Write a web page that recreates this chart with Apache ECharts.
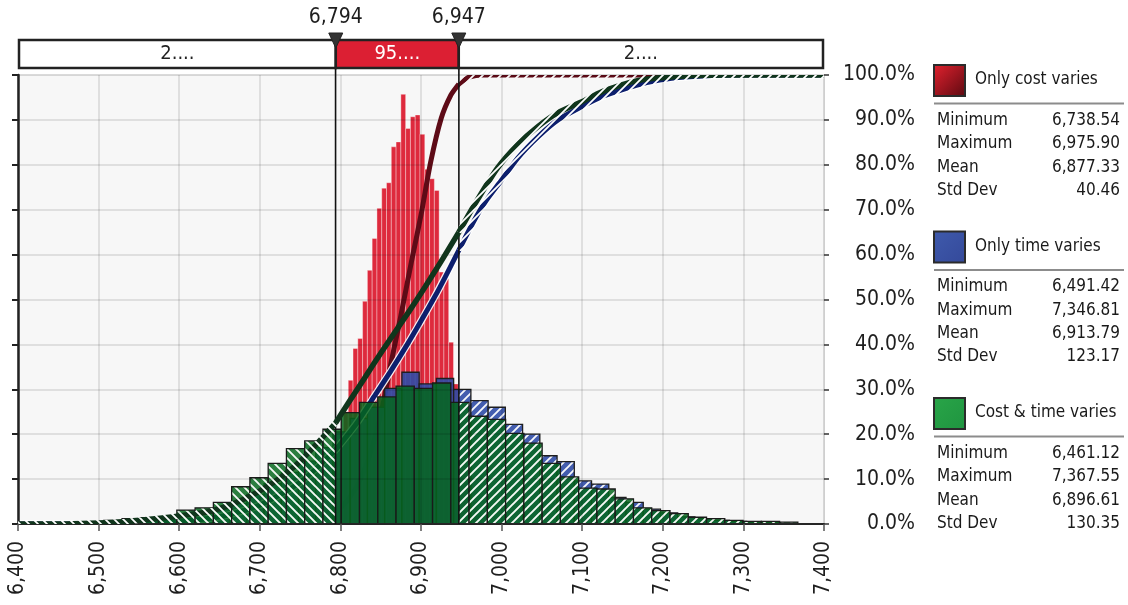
<!DOCTYPE html>
<html>
<head>
<meta charset="utf-8">
<script src="https://cdn.jsdelivr.net/npm/echarts@6/dist/echarts.min.js"></script>
<style>
  html, body { margin: 0; padding: 0; background: #ffffff; }
  #chart { width: 1128px; height: 605px; }
</style>
</head>
<body>
<div id="chart"></div>
<script>
// ---- Simulation summary -------------------------------------------------
const seriesNames = ['Only cost varies', 'Only time varies', 'Cost & time varies'];
const statLabels = ['Minimum', 'Maximum', 'Mean', 'Std Dev'];
const costStats = [6738.54, 6975.90, 6877.33, 40.46];
const timeStats = [6491.42, 7346.81, 6913.79, 123.17];
const bothStats = [6461.12, 7367.55, 6896.61, 130.35];

// Histogram densities (x10^-3 per unit), 40 equal bins from each series' min to max
const costDensity = [0.04, 0.05, 0.08, 0.12, 0.20, 0.30, 0.45, 0.70, 1.00, 1.40,
                     1.90, 2.50, 3.20, 3.91, 4.13, 4.96, 5.65, 6.36, 7.03, 7.48,
                     7.60, 8.40, 8.51, 9.57, 8.81, 9.07, 9.11, 8.68, 7.90, 7.69,
                     7.43, 5.61, 5.46, 4.05, 3.12, 2.30, 1.60, 1.00, 0.50, 0.20];
const timeDensity = [0.01, 0.02, 0.04, 0.06, 0.10, 0.14, 0.23, 0.34, 0.46, 0.66,
                     0.90, 1.15, 1.40, 1.70, 2.05, 2.35, 2.60, 3.02, 3.38, 3.12,
                     3.24, 3.00, 2.75, 2.60, 2.22, 2.00, 1.52, 1.39, 0.96, 0.89,
                     0.59, 0.48, 0.33, 0.25, 0.16, 0.12, 0.08, 0.06, 0.04, 0.03];
const bothDensity = [0.03, 0.05, 0.08, 0.12, 0.14, 0.14, 0.31, 0.36, 0.48, 0.83,
                     1.03, 1.35, 1.68, 1.85, 2.11, 2.48, 2.71, 2.83, 3.07, 3.02,
                     3.14, 2.71, 2.40, 2.33, 2.02, 1.80, 1.35, 1.05, 0.80, 0.78,
                     0.56, 0.36, 0.30, 0.23, 0.15, 0.12, 0.08, 0.06, 0.06, 0.04];

// Cumulative probability curves (%)
const costCdfX = [6400, 6738, 6760, 6780, 6794, 6810, 6825, 6840, 6852, 6863, 6875, 6888,
                  6900, 6912, 6925, 6937, 6947, 6958, 6968, 6976, 7400];
const costCdfY = [0, 0, 0.3, 1.2, 2.5, 5.5, 10, 17.5, 26, 36, 46.4, 58.3,
                  68.8, 80.6, 90.3, 95.5, 98, 99.4, 99.9, 100, 100];
const timeCdfX = [6400, 6491, 6550, 6600, 6650, 6700, 6750, 6794, 6820, 6842, 6863, 6883,
                  6900, 6917, 6930, 6947, 6966, 6980, 7000, 7020, 7045, 7070, 7099, 7125,
                  7149, 7180, 7211, 7250, 7300, 7400];
const timeCdfY = [0, 0, 0.3, 0.6, 1.6, 4.2, 9.3, 16.5, 22.4, 28.4, 34.2, 40.0,
                  45.2, 50.6, 55.0, 61.0, 67.6, 71.8, 76.6, 81.5, 86.2, 90, 92.9, 95.2,
                  96.7, 98.3, 99.3, 99.8, 100, 100];
const bothCdfX = [6400, 6460, 6500, 6530, 6560, 6600, 6640, 6680, 6715, 6750, 6794, 6810,
                  6821, 6840, 6863, 6885, 6904, 6925, 6947, 6966, 6995, 7020, 7045, 7070,
                  7099, 7125, 7149, 7170, 7190, 7230, 7280, 7400];
const bothCdfY = [0, 0, 0.2, 0.5, 1.0, 1.8, 2.9, 5.5, 9.0, 14.0, 22.5, 27.0,
                  30.0, 35.3, 41.5, 47.3, 52.5, 58.5, 65, 71.0, 79.3, 84.5, 88.5, 91.6,
                  94, 96.3, 97.8, 98.8, 99.3, 99.8, 100, 100];

// Axis ranges and the delimiter band
const xMin = 6400, xMax = 7400, xStep = 100;
const pctTicks = [0, 10, 20, 30, 40, 50, 60, 70, 80, 90, 100];
const markerLow = 6794, markerHigh = 6947;
const bandLabels = ['2....', '95....', '2....'];

// ---- Helpers ---------------------------------------------------------------
const FONT = '"DejaVu Sans Condensed", "DejaVu Sans", sans-serif';
const fmtInt = v => Math.round(v).toLocaleString('en-US');
const fmt2 = v => v.toLocaleString('en-US', { minimumFractionDigits: 2, maximumFractionDigits: 2 });

// Diagonal stripe tile: '/' or '\', optional solid background
function stripeTile(dir, bg, lw) {
  const s = 9;
  const c = document.createElement('canvas');
  c.width = s; c.height = s;
  const g = c.getContext('2d');
  if (bg) { g.fillStyle = bg; g.fillRect(0, 0, s, s); }
  g.strokeStyle = '#ffffff';
  g.lineWidth = lw;
  g.beginPath();
  if (dir === '/') {
    g.moveTo(-2, 2); g.lineTo(2, -2);
    g.moveTo(-2, s + 2); g.lineTo(s + 2, -2);
    g.moveTo(s - 2, s + 2); g.lineTo(s + 2, s - 2);
  } else {
    g.moveTo(-2, -2); g.lineTo(s + 2, s + 2);
    g.moveTo(s - 2, -2); g.lineTo(s + 2, 2);
    g.moveTo(-2, s - 2); g.lineTo(2, s + 2);
  }
  g.stroke();
  return { image: c, repeat: 'repeat' };
}
const hatchLeft = stripeTile('\\', null, 1.9);
const hatchRight = stripeTile('/', null, 1.9);

function binsOf(stats, dens) {
  const w = (stats[1] - stats[0]) / dens.length;
  return dens.map((h, i) => [stats[0] + i * w, stats[0] + (i + 1) * w, h]);
}

function rectBetween(api, xa, xb, h) {
  const a = api.coord([xa, h]);
  const b = api.coord([xb, 0]);
  return { x: a[0], y: a[1], width: b[0] - a[0], height: b[1] - a[1] };
}

function histSeries(name, stats, dens, look, z) {
  return {
    type: 'custom', name, xAxisIndex: 0, yAxisIndex: 0, z, clip: true, silent: true,
    data: binsOf(stats, dens),
    renderItem(params, api) {
      const x0 = api.value(0), x1 = api.value(1), h = api.value(2);
      const children = [{
        type: 'rect', shape: rectBetween(api, x0, x1, h),
        style: { fill: look.fill, opacity: look.opacity }
      }];
      const l = Math.min(x1, markerLow);
      if (l > x0) children.push({ type: 'rect', shape: rectBetween(api, x0, l, h), style: { fill: hatchLeft, opacity: 0.95 } });
      const r = Math.max(x0, markerHigh);
      if (x1 > r) children.push({ type: 'rect', shape: rectBetween(api, r, x1, h), style: { fill: hatchRight, opacity: 0.95 } });
      children.push({
        type: 'rect', shape: rectBetween(api, x0, x1, h),
        style: { fill: 'none', stroke: look.stroke, lineWidth: look.lineWidth }
      });
      return { type: 'group', children };
    }
  };
}

function cdfSeries(name, xs, ys, look, z) {
  const pts = xs.map((x, i) => [x, ys[i]]);
  const patL = stripeTile('\\', look.color, 1.8);
  const patR = stripeTile('/', look.color, 1.8);
  return {
    type: 'custom', name, xAxisIndex: 0, yAxisIndex: 1, z, clip: true, silent: true,
    data: pts,
    renderItem(params, api) {
      if (params.dataIndex !== 0) return null;
      const left = pts.filter(p => p[0] <= markerLow).map(p => api.coord(p));
      const mid = pts.filter(p => p[0] >= markerLow && p[0] <= markerHigh).map(p => api.coord(p));
      const right = pts.filter(p => p[0] >= markerHigh).map(p => api.coord(p));
      const line = (points, stroke, width) => ({
        type: 'polyline', shape: { points, smooth: 0.25 },
        style: { fill: 'none', stroke, lineWidth: width, lineJoin: 'round' }
      });
      const children = [];
      if (look.halo) {
        children.push(line(left, look.halo, look.width + 2.5));
        children.push(line(mid, look.halo, look.width + 2.5));
        children.push(line(right, look.halo, look.width + 2.5));
      }
      children.push(line(left, patL, look.width));
      children.push(line(mid, look.color, look.width));
      children.push(line(right, patR, look.width));
      return { type: 'group', children };
    }
  };
}

// ---- Chart -----------------------------------------------------------------
const chart = echarts.init(document.getElementById('chart'), null, { renderer: 'canvas' });

const legendColors = [
  { type: 'linear', x: 0, y: 0, x2: 1, y2: 1, colorStops: [{ offset: 0, color: '#e4222f' }, { offset: 1, color: '#5a0910' }] },
  { type: 'linear', x: 0, y: 0, x2: 1, y2: 1, colorStops: [{ offset: 0, color: '#3f5aac' }, { offset: 1, color: '#34499a' }] },
  { type: 'linear', x: 0, y: 0, x2: 1, y2: 1, colorStops: [{ offset: 0, color: '#29a548' }, { offset: 1, color: '#1f9440' }] }
];
const allStats = [costStats, timeStats, bothStats];

const panel = [];
seriesNames.forEach((name, k) => {
  const y0 = 64 + 166.5 * k;
  panel.push({ type: 'rect', left: 933, top: y0, shape: { width: 31, height: 31 },
    style: { fill: legendColors[k], stroke: '#2b2b2b', lineWidth: 2 } });
  panel.push({ type: 'text', x: 975, y: y0 + 16,
    style: { text: name, fill: '#1a1a1a', font: '17px ' + FONT, verticalAlign: 'middle' } });
  panel.push({ type: 'line', shape: { x1: 934, y1: y0 + 39.5, x2: 1124, y2: y0 + 39.5 },
    style: { stroke: '#8c8c8c', lineWidth: 2 } });
  statLabels.forEach((lab, r) => {
    const yy = y0 + 56.5 + 23.3 * r;
    panel.push({ type: 'text', x: 937, y: yy,
      style: { text: lab, fill: '#1a1a1a', font: '17px ' + FONT, verticalAlign: 'middle' } });
    panel.push({ type: 'text', x: 1120, y: yy,
      style: { text: fmt2(allStats[k][r]), fill: '#1a1a1a', font: '17px ' + FONT, verticalAlign: 'middle', align: 'right' } });
  });
});

const bandEdges = [xMin, markerLow, markerHigh, xMax];

const option = {
  animation: false,
  backgroundColor: '#ffffff',
  grid: [
    { left: 18, right: 304, top: 75, bottom: 81, show: true, backgroundColor: '#f7f7f7',
      borderColor: '#e3e3e3', borderWidth: 1, containLabel: false, outerBoundsMode: 'none' },
    { left: 19, right: 305, top: 40, height: 28, containLabel: false, outerBoundsMode: 'none' }
  ],
  xAxis: [
    {
      type: 'value', gridIndex: 0, min: xMin, max: xMax, interval: xStep, z: 6,
      axisLine: { show: true, lineStyle: { color: '#262626', width: 2 } },
      axisTick: { show: true, length: 7, lineStyle: { color: '#555', width: 1.5 } },
      axisLabel: { rotate: 90, margin: 17, fontSize: 21, fontFamily: FONT, color: '#1e1e1e',
                   formatter: v => fmtInt(v), showMinLabel: true, showMaxLabel: true },
      splitLine: { show: true, lineStyle: { color: 'rgba(0,0,0,0.13)', width: 1.5 } }
    },
    { type: 'value', gridIndex: 1, min: xMin, max: xMax, show: false }
  ],
  yAxis: [
    {
      type: 'value', gridIndex: 0, position: 'left', min: 0, max: 10, interval: 1, z: 6,
      axisLine: { show: true, lineStyle: { color: '#222', width: 2.5 } },
      axisTick: { show: true, length: 6, lineStyle: { color: '#222', width: 2 } },
      axisLabel: { show: false },
      splitLine: { show: true, lineStyle: { color: 'rgba(0,0,0,0.13)', width: 1.5 } }
    },
    {
      type: 'value', gridIndex: 0, position: 'right', min: pctTicks[0], max: pctTicks[pctTicks.length - 1],
      interval: pctTicks[1] - pctTicks[0], z: 6,
      axisLine: { show: true, lineStyle: { color: '#cfcfcf', width: 1 } },
      axisTick: { show: true, length: 5, lineStyle: { color: '#333', width: 1.5 } },
      axisLabel: { show: true, align: 'right', margin: 91, fontSize: 21, fontFamily: FONT, color: '#1e1e1e',
                   formatter: v => v.toFixed(1) + '%' },
      splitLine: { show: false }
    },
    { type: 'value', gridIndex: 1, min: 0, max: 1, show: false }
  ],
  graphic: panel,
  series: [
    histSeries(seriesNames[0], costStats, costDensity,
      { fill: '#dc1a2e', opacity: 0.93, stroke: 'rgba(255,255,255,0.35)', lineWidth: 1 }, 1),
    cdfSeries(seriesNames[0] + ' (cumulative)', costCdfX, costCdfY,
      { color: '#5e0b17', width: 5 }, 2),
    histSeries(seriesNames[1], timeStats, timeDensity,
      { fill: '#2f4ba6', opacity: 0.9, stroke: '#1f1f1f', lineWidth: 1.3 }, 3),
    cdfSeries(seriesNames[1] + ' (cumulative)', timeCdfX, timeCdfY,
      { color: '#0d1f6e', width: 5, halo: 'rgba(255,255,255,0.9)' }, 4),
    histSeries(seriesNames[2], bothStats, bothDensity,
      { fill: '#03661b', opacity: 0.84, stroke: '#1a1a1a', lineWidth: 1.3 }, 5),
    {
      // delimiter lines through the plot
      type: 'custom', name: 'delimiters', xAxisIndex: 0, yAxisIndex: 0, z: 7, silent: true, clip: false,
      data: [[markerLow], [markerHigh]],
      renderItem(params, api) {
        const b = api.coord([api.value(0), 0]);
        const t = api.coord([api.value(0), 10]);
        return { type: 'line', shape: { x1: b[0], y1: b[1], x2: t[0], y2: t[1] - 8 },
                 style: { stroke: '#111', lineWidth: 1.6 } };
      }
    },
    cdfSeries(seriesNames[2] + ' (cumulative)', bothCdfX, bothCdfY,
      { color: '#10351c', width: 5.5 }, 8),
    {
      // delimiter band above the plot
      type: 'custom', name: 'band', xAxisIndex: 1, yAxisIndex: 2, z: 9, silent: true, clip: false,
      data: bandLabels.map((lab, i) => [bandEdges[i], bandEdges[i + 1], i]),
      renderItem(params, api) {
        const i = api.value(2);
        const a = api.coord([api.value(0), 1]);
        const b = api.coord([api.value(1), 0]);
        const mid = i === 1;
        return {
          type: 'group', children: [
            { type: 'rect', shape: { x: a[0], y: a[1], width: b[0] - a[0], height: b[1] - a[1] },
              style: { fill: mid ? '#dc1f33' : '#ffffff', stroke: '#222', lineWidth: 2.5 } },
            { type: 'text', x: (a[0] + b[0]) / 2, y: (a[1] + b[1]) / 2,
              style: { text: bandLabels[i], fill: mid ? '#ffffff' : '#222', font: '20px ' + FONT,
                       align: 'center', verticalAlign: 'middle' } }
          ]
        };
      }
    },
    {
      // delimiter handles and their values
      type: 'custom', name: 'handles', xAxisIndex: 1, yAxisIndex: 2, z: 10, silent: true, clip: false,
      data: [[markerLow], [markerHigh]],
      renderItem(params, api) {
        const p = api.coord([api.value(0), 1]);
        return {
          type: 'group', children: [
            { type: 'polygon', shape: { points: [[p[0] - 7, p[1] - 7], [p[0] + 7, p[1] - 7], [p[0], p[1] + 8]] },
              style: { fill: '#333333', stroke: '#222', lineWidth: 1 } },
            { type: 'text', x: p[0], y: p[1] - 22,
              style: { text: fmtInt(api.value(0)), fill: '#1e1e1e', font: '21px ' + FONT,
                       align: 'center', verticalAlign: 'middle' } }
          ]
        };
      }
    }
  ]
};

chart.setOption(option);
</script>
</body>
</html>
